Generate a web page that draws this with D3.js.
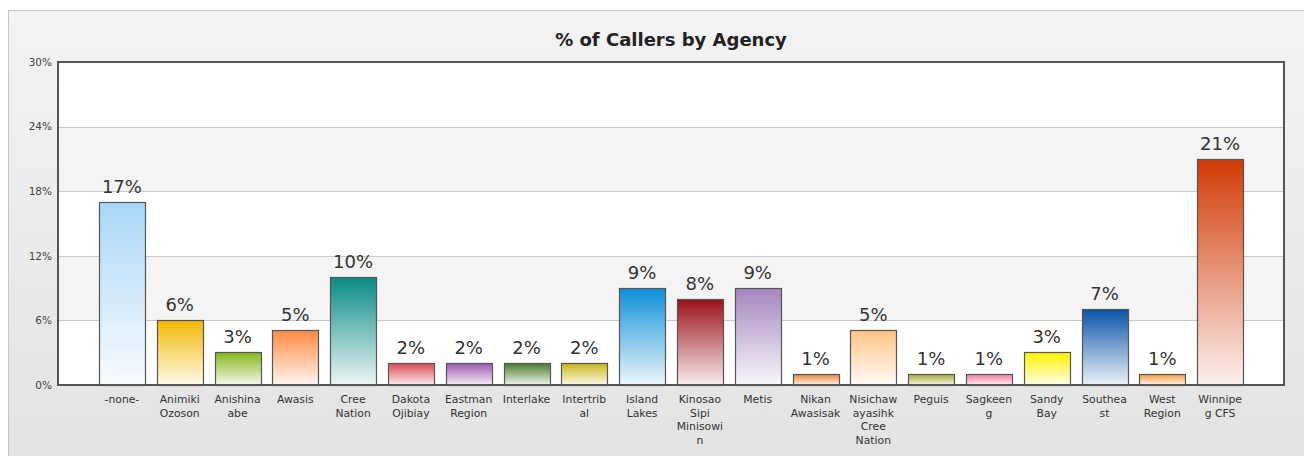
<!DOCTYPE html>
<html lang="en">
<head>
    <meta charset="UTF-8">
    <title>% of Callers by Agency</title>
    <script src="https://d3js.org/d3.v7.min.js"></script>
    <style>
        body {
            margin: 0;
            padding: 0;
            background-color: #fff;
            font-family: Verdana, "DejaVu Sans", sans-serif;
        }
        #chart svg {
            display: block;
        }
    </style>
</head>
<body>
<div id="chart"></div>
<script>
    // data
    const agencies = ["-none-", "Animiki Ozoson", "Anishinaabe", "Awasis", "Cree Nation",
        "Dakota Ojibiay", "Eastman Region", "Interlake", "Intertribal", "Island Lakes",
        "Kinosao Sipi Minisowin", "Metis", "Nikan Awasisak", "Nisichawayasihk Cree Nation",
        "Peguis", "Sagkeeng", "Sandy Bay", "Southeast", "West Region", "Winnipeg CFS"];
    const tickLabels = [["-none-"], ["Animiki", "Ozoson"], ["Anishina", "abe"], ["Awasis"], ["Cree", "Nation"],
        ["Dakota", "Ojibiay"], ["Eastman", "Region"], ["Interlake"], ["Intertrib", "al"], ["Island", "Lakes"],
        ["Kinosao", "Sipi", "Minisowi", "n"], ["Metis"], ["Nikan", "Awasisak"], ["Nisichaw", "ayasihk", "Cree", "Nation"],
        ["Peguis"], ["Sagkeen", "g"], ["Sandy", "Bay"], ["Southea", "st"], ["West", "Region"], ["Winnipe", "g CFS"]];
    const percents = [17.0, 6.0, 3.05, 5.1, 10.0, 2.0, 2.0, 2.0, 2.0, 9.0, 8.0, 9.0, 1.05, 5.1, 1.05, 1.05, 3.05, 7.1, 1.05, 21.0];
    const barColors = ["#a9d5f7", "#f2b705", "#86b51a", "#ff8a45", "#0b8a85", "#db4a55", "#9c58b0", "#4a7d2c",
        "#c9b71a", "#0e8fd9", "#9a1018", "#a487bf", "#e8863a", "#ffc486", "#a6a534", "#f47d9c",
        "#fff200", "#0a54a6", "#f39d44", "#d13a06"];
    const yTicks = [0, 6, 12, 18, 24, 30];

    const W = 1304, H = 456;
    const plot = {left: 58, top: 62, right: 1284, bottom: 385};

    const svg = d3.select("#chart").append("svg")
        .attr("width", W)
        .attr("height", H);

    const defs = svg.append("defs");

    // panel background
    const bg = defs.append("linearGradient")
        .attr("id", "panelBg")
        .attr("x1", "0%").attr("x2", "0%")
        .attr("y1", "0%").attr("y2", "100%");
    bg.append("stop").attr("offset", "0%").attr("stop-color", "#f3f3f3");
    bg.append("stop").attr("offset", "100%").attr("stop-color", "#e3e3e3");

    svg.append("rect")
        .attr("x", 8.5)
        .attr("y", 10.5)
        .attr("width", W)
        .attr("height", H)
        .attr("fill", "url(#panelBg)")
        .attr("stroke", "#c4c4c4");

    const x = d3.scaleBand()
        .domain(agencies)
        .range([93, 1249])
        .paddingInner(0.21)
        .paddingOuter(0.105);

    const y = d3.scaleLinear()
        .domain([0, 30])
        .range([plot.bottom, plot.top]);

    // alternating bands
    svg.append("g").selectAll("rect")
        .data(d3.pairs(yTicks))
        .enter().append("rect")
        .attr("x", plot.left)
        .attr("width", plot.right - plot.left)
        .attr("y", d => y(d[1]))
        .attr("height", d => y(d[0]) - y(d[1]))
        .attr("fill", (d, i) => i % 2 === 0 ? "#ffffff" : "#f4f4f4");

    // grid lines
    svg.append("g").selectAll("line")
        .data(yTicks.slice(1, -1))
        .enter().append("line")
        .attr("x1", plot.left)
        .attr("x2", plot.right)
        .attr("y1", d => Math.round(y(d)) + 0.5)
        .attr("y2", d => Math.round(y(d)) + 0.5)
        .attr("stroke", "#c9c9c9");

    // y axis labels
    const yAxis = svg.append("g")
        .attr("transform", `translate(${plot.left},0)`)
        .call(d3.axisLeft(y).tickValues(yTicks).tickSize(0).tickPadding(6).tickFormat(d => d + "%"));
    yAxis.select(".domain").remove();
    yAxis.selectAll("text")
        .attr("fill", "#444")
        .style("font-family", "Verdana, 'DejaVu Sans', sans-serif")
        .style("font-size", "10.5px");

    // bar gradients
    barColors.forEach((c, i) => {
        const g = defs.append("linearGradient")
            .attr("id", "bar" + i)
            .attr("x1", "0%").attr("x2", "0%")
            .attr("y1", "0%").attr("y2", "100%");
        g.append("stop").attr("offset", "0%").attr("stop-color", c);
        g.append("stop").attr("offset", "100%").attr("stop-color", d3.interpolateRgb(c, "#fff")(0.93));
    });

    svg.append("g").selectAll("rect")
        .data(percents)
        .enter().append("rect")
        .attr("x", (d, i) => Math.round(x(agencies[i])) + 0.5)
        .attr("y", d => Math.round(y(d)) + 0.5)
        .attr("width", Math.round(x.bandwidth()))
        .attr("height", d => Math.round(y(0)) - Math.round(y(d)))
        .attr("fill", (d, i) => `url(#bar${i})`)
        .attr("stroke", "#555")
        .attr("stroke-width", 1.2);

    // value labels
    svg.append("g").selectAll("text")
        .data(percents)
        .enter().append("text")
        .attr("x", (d, i) => x(agencies[i]) + x.bandwidth() / 2)
        .attr("y", d => y(d) - 9)
        .attr("text-anchor", "middle")
        .attr("fill", "#333")
        .style("font-size", "18px")
        .text(d => Math.round(d) + "%");

    // plot frame
    svg.append("path")
        .attr("d", `M${plot.left},${plot.bottom}V${plot.top}H${plot.right}V${plot.bottom}Z`)
        .attr("fill", "none")
        .attr("stroke", "#555")
        .attr("stroke-width", 2);

    // x labels
    const xl = svg.append("g").selectAll("text")
        .data(tickLabels)
        .enter().append("text")
        .attr("x", (d, i) => x(agencies[i]) + x.bandwidth() / 2)
        .attr("y", 403)
        .attr("text-anchor", "middle")
        .attr("fill", "#333")
        .style("font-size", "10.8px");
    xl.selectAll("tspan")
        .data(d => d)
        .enter().append("tspan")
        .attr("x", function() { return this.parentNode.getAttribute("x"); })
        .attr("dy", (d, i) => i === 0 ? 0 : 13.7)
        .text(d => d);

    // title
    svg.append("text")
        .attr("x", (plot.left + plot.right) / 2)
        .attr("y", 46)
        .attr("text-anchor", "middle")
        .attr("fill", "#222")
        .style("font-size", "18px")
        .style("font-weight", "bold")
        .text("% of Callers by Agency");
</script>
</body>
</html>
